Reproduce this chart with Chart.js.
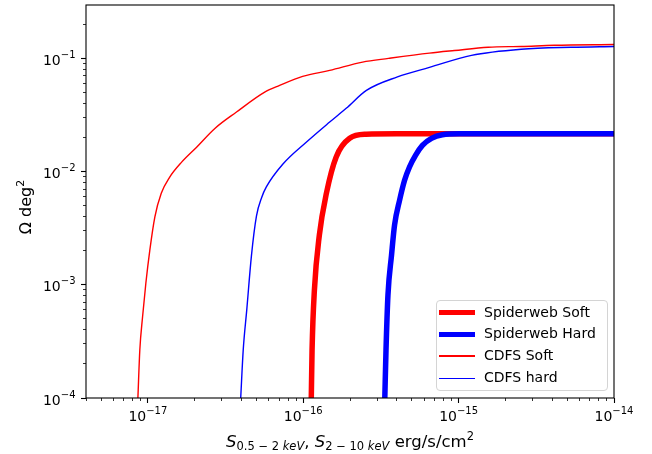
<!DOCTYPE html>
<html lang="en">
<head>
    <meta charset="UTF-8">
    <title>Survey area vs flux limit</title>
    <script src="https://cdn.jsdelivr.net/npm/chart.js"></script>
    <style>
        body {
            margin: 0;
            background: #fff;
            font-family: "DejaVu Sans", sans-serif;
        }
        .wrap {
            position: relative;
            width: 652px;
            height: 454px;
        }
        #legend {
            position: absolute;
            left: 436px;
            top: 300px;
            width: 172px;
            height: 91px;
            box-sizing: border-box;
            border: 1px solid #d4d4d4;
            border-radius: 4px;
            background: rgba(255, 255, 255, 0.8);
        }
        .handle {
            position: absolute;
            left: 2px;
            width: 36px;
        }
        .label {
            position: absolute;
            left: 47px;
            font-size: 14px;
            line-height: 16px;
            color: #000;
            white-space: nowrap;
        }
    </style>
</head>
<body>
<div class="wrap">
    <canvas id="areaChart" width="652" height="454"></canvas>
    <div id="legend"></div>
</div>

<script>
    // values (flux in erg/s/cm2, area in deg2)
    const swSoftFlux = [1.127e-16, 1.14e-16, 1.18e-16, 1.27e-16, 1.41e-16, 1.63e-16, 1.99e-16, 2.54e-16, 4.0e-16, 1.0e-14];
    const swSoftArea = [1.0e-4, 2.65e-4, 8.97e-4, 2.74e-3, 6.42e-3, 0.01343, 0.01963, 0.0213, 0.0215, 0.0215];

    const swHardFlux = [3.35e-16, 3.41e-16, 3.51e-16, 3.70e-16, 3.87e-16, 4.17e-16, 4.49e-16, 4.83e-16, 5.28e-16, 5.85e-16, 6.69e-16, 7.87e-16, 1.01e-15, 1.0e-14];
    const swHardArea = [1.0e-4, 2.65e-4, 8.09e-4, 1.82e-3, 3.36e-3, 5.57e-3, 8.36e-3, 0.01096, 0.0139, 0.0170, 0.0196, 0.0211, 0.0215, 0.0215];

    const cdfsSoftFlux = [8.63e-18, 8.88e-18, 9.25e-18, 9.71e-18, 1.03e-17, 1.11e-17, 1.22e-17, 1.38e-17, 1.65e-17, 2.06e-17, 2.70e-17, 3.72e-17, 5.65e-17, 7.05e-17, 9.91e-17, 1.48e-16, 2.41e-16, 3.54e-16, 6.49e-16, 9.40e-16, 1.55e-15, 2.53e-15, 4.13e-15, 1.0e-14];
    const cdfsSoftArea = [1.0e-4, 2.65e-4, 5.21e-4, 1.03e-3, 2.02e-3, 3.97e-3, 6.42e-3, 8.89e-3, 0.0121, 0.0164, 0.0240, 0.0335, 0.0502, 0.0575, 0.0691, 0.0780, 0.0924, 0.0996, 0.111, 0.117, 0.125, 0.127, 0.130, 0.132];

    const cdfsHardFlux = [3.96e-17, 4.11e-17, 4.33e-17, 4.64e-17, 5.00e-17, 5.41e-17, 5.79e-17, 7.38e-17, 1.05e-16, 1.48e-16, 1.89e-16, 2.55e-16, 4.04e-16, 6.49e-16, 1.21e-15, 2.53e-15, 5.31e-15, 1.0e-14];
    const cdfsHardArea = [1.0e-4, 2.65e-4, 5.97e-4, 1.79e-3, 4.03e-3, 5.92e-3, 7.30e-3, 0.01157, 0.0182, 0.0273, 0.0361, 0.0520, 0.0684, 0.0830, 0.106, 0.120, 0.125, 0.127];

    const seriesNames = ["Spiderweb Soft", "Spiderweb Hard", "CDFS Soft", "CDFS hard"];
    const seriesColors = ["#ff0000", "#0000ff", "#ff0000", "#0000ff"];
    const seriesWidths = [5.5, 5.5, 1.4, 1.4];

    // tick labels are 10^exponent
    const xTickValues = [1e-17, 1e-16, 1e-15, 1e-14];
    const xTickExps = ["−17", "−16", "−15", "−14"];
    const yTickValues = [1e-4, 1e-3, 1e-2, 1e-1];
    const yTickExps = ["−4", "−3", "−2", "−1"];

    const xMin = 4e-18, xMax = 1e-14;
    const yMin = 1e-4, yMax = 0.295;

    function toPoints(xs, ys) {
        return xs.map((x, i) => ({ x: x, y: ys[i] }));
    }

    // minor ticks at 2..9 x 10^n inside the range
    function minorTicks(min, max) {
        let out = [];
        for (let e = Math.floor(Math.log10(min)); e <= Math.ceil(Math.log10(max)); e++) {
            for (let m = 2; m <= 9; m++) {
                let v = m * Math.pow(10, e);
                if (v >= min * 0.999 && v <= max * 1.001) out.push({ value: v });
            }
        }
        return out;
    }

    const seriesData = [
        toPoints(swSoftFlux, swSoftArea),
        toPoints(swHardFlux, swHardArea),
        toPoints(cdfsSoftFlux, cdfsSoftArea),
        toPoints(cdfsHardFlux, cdfsHardArea)
    ];

    const datasets = seriesNames.map((name, i) => ({
        label: name,
        data: seriesData[i],
        showLine: true,
        borderColor: seriesColors[i],
        backgroundColor: seriesColors[i],
        borderWidth: seriesWidths[i],
        pointRadius: 0,
        cubicInterpolationMode: 'monotone',
        borderCapStyle: 'butt',
        clip: 0,
        order: 3 - i
    }));

    const FONT = "'DejaVu Sans', sans-serif";

    // draws a run of text pieces with their own font and vertical shift
    function drawRun(c, parts, x, y, align) {
        let total = 0;
        parts.forEach(p => { c.font = p.f; p.w = c.measureText(p.t).width; total += p.w; });
        if (align === 'center') x -= total / 2;
        if (align === 'right') x -= total;
        parts.forEach(p => { c.font = p.f; c.fillText(p.t, x, y + p.dy); x += p.w; });
    }

    function powerLabel(exp) {
        return [
            { t: '10', f: '14px ' + FONT, dy: 0 },
            { t: exp, f: '10px ' + FONT, dy: -7 }
        ];
    }

    // frame, tick labels and axis titles
    const framePlugin = {
        id: 'frame',
        afterDraw(chart) {
            const c = chart.ctx;
            const a = chart.chartArea;
            const sx = chart.scales.x, sy = chart.scales.y;
            c.save();
            c.strokeStyle = '#000';
            c.lineWidth = 1.1;
            c.strokeRect(a.left, a.top, a.right - a.left, a.bottom - a.top);

            c.fillStyle = '#000';
            c.textAlign = 'left';
            c.textBaseline = 'alphabetic';

            xTickValues.forEach((v, i) => {
                drawRun(c, powerLabel(xTickExps[i]), sx.getPixelForValue(v), a.bottom + 23, 'center');
            });
            yTickValues.forEach((v, i) => {
                drawRun(c, powerLabel(yTickExps[i]), a.left - 10.5, sy.getPixelForValue(v) + 6.5, 'right');
            });

            drawRun(c, [
                { t: 'S', f: 'italic 16.5px ' + FONT, dy: 0 },
                { t: '0.5 − 2 ', f: '11.5px ' + FONT, dy: 3 },
                { t: 'keV', f: 'italic 11.5px ' + FONT, dy: 3 },
                { t: ', ', f: '16.5px ' + FONT, dy: 0 },
                { t: 'S', f: 'italic 16.5px ' + FONT, dy: 0 },
                { t: '2 − 10 ', f: '11.5px ' + FONT, dy: 3 },
                { t: 'keV', f: 'italic 11.5px ' + FONT, dy: 3 },
                { t: ' erg/s/cm', f: '16.5px ' + FONT, dy: 0 },
                { t: '2', f: '11.5px ' + FONT, dy: -7 }
            ], (a.left + a.right) / 2, 447, 'center');

            c.translate(30.5, 207);
            c.rotate(-Math.PI / 2);
            drawRun(c, [
                { t: 'Ω deg', f: '16px ' + FONT, dy: 0 },
                { t: '2', f: '11px ' + FONT, dy: -7 }
            ], 0, 0, 'center');
            c.restore();
        }
    };

    const ctx = document.getElementById('areaChart').getContext('2d');
    new Chart(ctx, {
        type: 'scatter',
        data: { datasets: datasets },
        plugins: [framePlugin],
        options: {
            responsive: false,
            animation: false,
            layout: { padding: { left: 0, right: 38, top: 5, bottom: 0 } },
            plugins: {
                legend: { display: false },
                tooltip: { enabled: false }
            },
            scales: {
                x: {
                    type: 'logarithmic',
                    position: 'bottom',
                    weight: 1,
                    min: xMin,
                    max: xMax,
                    afterBuildTicks: s => { s.ticks = xTickValues.map(v => ({ value: v })); },
                    afterFit: s => { s.height = 56; s.paddingLeft = 0; s.paddingRight = 0; },
                    ticks: { autoSkip: false, maxRotation: 0, callback: () => '' },
                    grid: { drawOnChartArea: false, tickLength: 5, tickColor: '#000', tickWidth: 1.1 },
                    border: { display: false }
                },
                xMinor: {
                    type: 'logarithmic',
                    position: 'bottom',
                    weight: 0,
                    min: xMin,
                    max: xMax,
                    afterBuildTicks: s => { s.ticks = minorTicks(xMin, xMax); },
                    afterFit: s => { s.height = 0; s.paddingLeft = 0; s.paddingRight = 0; },
                    ticks: { display: false },
                    grid: { drawOnChartArea: false, tickLength: 3, tickColor: '#000', tickWidth: 0.8 },
                    border: { display: false }
                },
                y: {
                    type: 'logarithmic',
                    position: 'left',
                    weight: 1,
                    min: yMin,
                    max: yMax,
                    afterBuildTicks: s => { s.ticks = yTickValues.map(v => ({ value: v })); },
                    afterFit: s => { s.width = 86; s.paddingTop = 0; s.paddingBottom = 0; },
                    ticks: { autoSkip: false, callback: () => '' },
                    grid: { drawOnChartArea: false, tickLength: 5, tickColor: '#000', tickWidth: 1.1 },
                    border: { display: false }
                },
                yMinor: {
                    type: 'logarithmic',
                    position: 'left',
                    weight: 0,
                    min: yMin,
                    max: yMax,
                    afterBuildTicks: s => { s.ticks = minorTicks(yMin, yMax); },
                    afterFit: s => { s.width = 0; s.paddingTop = 0; s.paddingBottom = 0; },
                    ticks: { display: false },
                    grid: { drawOnChartArea: false, tickLength: 3, tickColor: '#000', tickWidth: 0.8 },
                    border: { display: false }
                }
            }
        }
    });

    // legend box, built from the same series arrays
    const rowCenters = [11.7, 33.3, 55, 77.3];
    const legend = document.getElementById('legend');
    seriesNames.forEach((name, i) => {
        let h = document.createElement('div');
        h.className = 'handle';
        h.style.top = (rowCenters[i] - seriesWidths[i] / 2) + 'px';
        h.style.height = seriesWidths[i] + 'px';
        h.style.background = seriesColors[i];
        legend.appendChild(h);

        let t = document.createElement('div');
        t.className = 'label';
        t.style.top = (rowCenters[i] - 9) + 'px';
        t.textContent = name;
        legend.appendChild(t);
    });
</script>
</body>
</html>
